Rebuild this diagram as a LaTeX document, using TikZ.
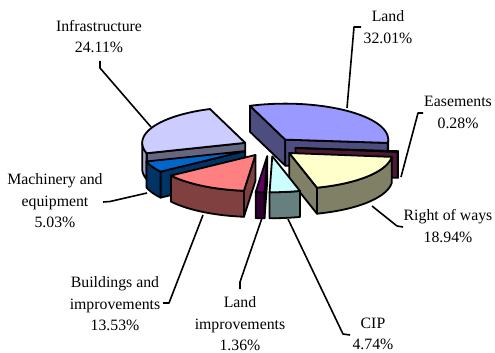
\documentclass[tikz,border=0pt]{standalone}
\usepackage{fontspec}
\setmainfont{Liberation Serif}
\definecolor{landtop}{HTML}{9999FF}\definecolor{landside}{HTML}{4D4D80}
\definecolor{easetop}{HTML}{993366}\definecolor{easeside}{HTML}{4D1A33}
\definecolor{rowtop}{HTML}{FFFFCC}\definecolor{rowside}{HTML}{808066}
\definecolor{ciptop}{HTML}{CCFFFF}\definecolor{cipside}{HTML}{668080}
\definecolor{litop}{HTML}{660066}\definecolor{liside}{HTML}{330033}
\definecolor{bldtop}{HTML}{FF8080}\definecolor{bldside}{HTML}{804040}
\definecolor{mactop}{HTML}{0066CC}\definecolor{macside}{HTML}{003366}
\definecolor{inftop}{HTML}{CCCCFF}\definecolor{infside}{HTML}{666680}\definecolor{infcurve}{HTML}{A3A3C8}
\def\CX{269}\def\CY{147}\def\RX{103}\def\RY{36}\def\DP{26}
\newcommand{\setapex}[2]{%
  \pgfmathsetmacro{\ax}{\CX+26.6*sin((#1+#2)/2)}%
  \pgfmathsetmacro{\ay}{\CY-9.3*cos((#1+#2)/2)}}
\newcommand{\radface}[2]{%
  \filldraw[pie, fill=#2] (\ax,\ay) -- ({\ax+\RX*sin(#1)},{\ay-\RY*cos(#1)})
    -- ({\ax+\RX*sin(#1)},{\ay-\RY*cos(#1)+\DP}) -- ({\ax},{\ay+\DP}) -- cycle;}
\newcommand{\curvedface}[3]{%
  \filldraw[pie, fill=#3] plot[domain=#1:#2, samples=30, variable=\t] ({\ax+\RX*sin(\t)},{\ay-\RY*cos(\t)})
    -- plot[domain=#2:#1, samples=30, variable=\t] ({\ax+\RX*sin(\t)},{\ay-\RY*cos(\t)+\DP}) -- cycle;}
\newcommand{\topface}[3]{%
  \filldraw[pie, fill=#3] (\ax,\ay) -- plot[domain=#1:#2, samples=40, variable=\t] ({\ax+\RX*sin(\t)},{\ay-\RY*cos(\t)}) -- cycle;}
\begin{document}
\begin{tikzpicture}[x=1pt, y=-1pt,
  pie/.style={draw=black, line width=1.8pt, line join=round},
  lbl/.style={font=\fontsize{15.8}{21.5}\selectfont, align=center, inner sep=0pt},
  ldr/.style={line width=1.6pt, line join=round}]
\useasboundingbox (0,0) rectangle (495,353);
% Land
\setapex{-20}{95.2}
\radface{-20}{landside}\radface{95.2}{landside}\curvedface{90}{95.2}{landside}\topface{-20}{95.2}{landtop}
% Infrastructure
\setapex{253.2}{340}
\radface{253.2}{infside}\curvedface{253.2}{270}{infcurve}\topface{253.2}{340}{inftop}
% Easements
\setapex{95.2}{96.2}
\radface{96.2}{easeside}\curvedface{95.2}{96.2}{easeside}\topface{95.2}{96.2}{easetop}
% Machinery
\setapex{235.1}{253.2}
\radface{235.1}{macside}\curvedface{235.1}{253.2}{macside}\topface{235.1}{253.2}{mactop}
% Right of ways
\setapex{96.2}{164.4}
\radface{164.4}{rowside}\curvedface{96.2}{164.4}{rowside}\topface{96.2}{164.4}{rowtop}
% Buildings
\setapex{186.4}{235.1}
\radface{186.4}{bldside}\curvedface{186.4}{235.1}{bldside}\topface{186.4}{235.1}{bldtop}
% Land improvements
\setapex{181.5}{186.4}
\radface{181.5}{liside}\curvedface{181.5}{186.4}{liside}\topface{181.5}{186.4}{litop}
% CIP
\setapex{164.4}{181.5}
\curvedface{164.4}{181.5}{cipside}\topface{164.4}{181.5}{ciptop}
% labels
\node[lbl] (inf) at (99,36.5) {Infrastructure\\24.11\%};
\node[lbl] (land) at (388,27) {Land\\32.01\%};
\node[lbl] (ease) at (458,112.5) {Easements\\0.28\%};
\node[lbl] (row) at (448,226) {Right of ways\\18.94\%};
\node[lbl] (mac) at (55,201) {Machinery and\\equipment\\5.03\%};
\node[lbl] (bld) at (115,304) {Buildings and\\improvements\\13.53\%};
\node[lbl] (li) at (240,324) {Land\\improvements\\1.36\%};
\node[lbl] (cip) at (373,334) {CIP\\4.74\%};
% leader points
\coordinate (inf1) at (100,61); \coordinate (inf2) at (100,68); \coordinate (inf3) at (151,127);
\coordinate (land1) at (361,27); \coordinate (land2) at (354,27); \coordinate (land3) at (347,108);
\coordinate (ease1) at (423,113); \coordinate (ease2) at (418,113); \coordinate (ease3) at (401,177);
\coordinate (row1) at (403,227); \coordinate (row2) at (397,226); \coordinate (row3) at (372,206);
\coordinate (mac1) at (103,202); \coordinate (mac2) at (110,201.5); \coordinate (mac3) at (147,193);
\coordinate (bld1) at (163,303); \coordinate (bld2) at (169,303); \coordinate (bld3) at (203,215);
\coordinate (li1) at (240,289); \coordinate (li2) at (240,282); \coordinate (li3) at (262,218);
\coordinate (cip1) at (350,335); \coordinate (cip2) at (343,334); \coordinate (cip3) at (288,219);
\draw[ldr] (inf1) -- (inf2) -- (inf3);
\draw[ldr] (land1) -- (land2) -- (land3);
\draw[ldr] (ease1) -- (ease2) -- (ease3);
\draw[ldr] (row1) -- (row2) -- (row3);
\draw[ldr] (mac1) -- (mac2) -- (mac3);
\draw[ldr] (bld1) -- (bld2) -- (bld3);
\draw[ldr] (li1) -- (li2) -- (li3);
\draw[ldr] (cip1) -- (cip2) -- (cip3);
\end{tikzpicture}
\end{document}
